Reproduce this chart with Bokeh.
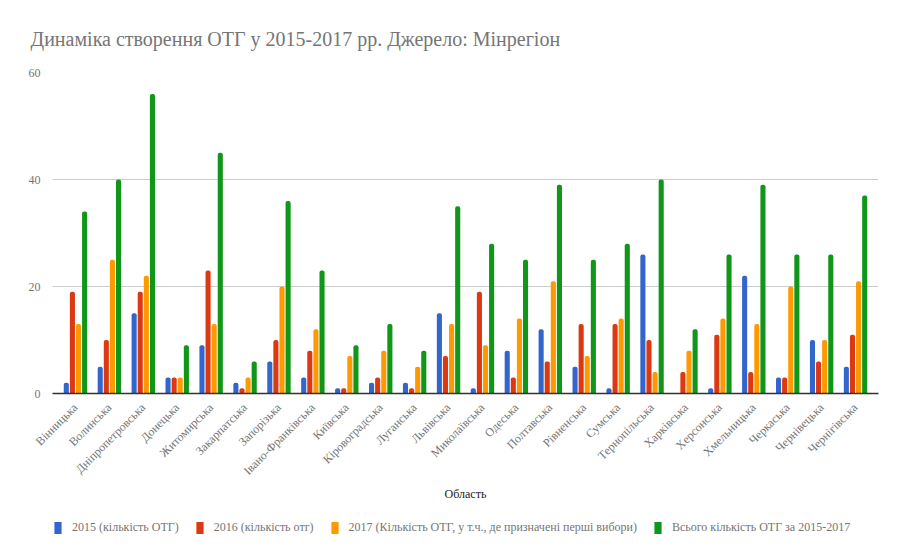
from math import pi

from bokeh.embed import file_html
from bokeh.layouts import column
from bokeh.models import ColumnDataSource, FixedTicker, Legend, LegendItem, Range1d
from bokeh.plotting import figure
from bokeh.resources import INLINE

# Oblasts (x categories)
regions = [
    "Вінницька", "Волинська", "Дніпропетровська", "Донецька", "Житомирська",
    "Закарпатська", "Запорізька", "Івано-Франківська", "Київська",
    "Кіровоградська", "Луганська", "Львівська", "Миколаївська", "Одеська",
    "Полтавська", "Рівненська", "Сумська", "Тернопільська", "Харківська",
    "Херсонська", "Хмельницька", "Черкаська", "Чернівецька", "Чернігівська",
]

# Number of united territorial communities per oblast
otg_2015 = [2, 5, 15, 3, 9, 2, 6, 3, 1, 2, 2, 15, 1, 8, 12, 5, 1, 26, 0, 1, 22, 3, 10, 5]
otg_2016 = [19, 10, 19, 3, 23, 1, 10, 8, 1, 3, 1, 7, 19, 3, 6, 13, 13, 10, 4, 11, 4, 3, 6, 11]
otg_2017 = [13, 25, 22, 3, 13, 3, 20, 12, 7, 8, 5, 13, 9, 14, 21, 7, 14, 4, 8, 14, 13, 20, 10, 21]
otg_total = [34, 40, 56, 9, 45, 6, 36, 23, 9, 13, 8, 35, 28, 25, 39, 25, 28, 40, 12, 26, 39, 26, 26, 37]

series_labels = [
    "2015 (кількість ОТГ)",
    "2016 (кількість отг)",
    "2017 (Кількість ОТГ, у т.ч., де призначені перші вибори)",
    "Всього кількість ОТГ за 2015-2017",
]
series_values = [otg_2015, otg_2016, otg_2017, otg_total]
colors = ["#3366cc", "#dc3912", "#ff9900", "#109618"]
y_ticks = [0, 20, 40, 60]

SERIF = "Liberation Serif"
GREY = "#757575"

xs = list(range(len(regions)))

# main chart: title, grouped bars, axes
p = figure(
    width=906, height=503,
    x_range=Range1d(-0.677, len(regions) - 1 + 0.677),
    y_range=Range1d(0, 60),
    output_backend="svg", toolbar_location=None,
    min_border_left=52, min_border_right=28,
    min_border_top=72, min_border_bottom=107,
)

p.title.text = "Динаміка створення ОТГ у 2015-2017 рр. Джерело: Мінрегіон"
p.title.text_font = SERIF
p.title.text_font_size = "20px"
p.title.text_font_style = "normal"
p.title.text_color = GREY
p.title.align = "left"
p.title.offset = -22
p.title.standoff = 45

offsets = [-0.27, -0.09, 0.09, 0.27]
for vals, off, col in zip(series_values, offsets, colors):
    src = ColumnDataSource(dict(x=[x + off for x in xs], top=vals))
    p.vbar(x="x", top="top", bottom=0, width=0.15, source=src,
           fill_color=col, line_color=None, border_radius=(2, 2, 0, 0))

# y axis: labels only
p.yaxis.ticker = FixedTicker(ticks=y_ticks)
p.yaxis.axis_line_color = None
p.yaxis.major_tick_line_color = None
p.yaxis.minor_tick_line_color = None
p.yaxis.major_label_text_font = SERIF
p.yaxis.major_label_text_font_size = "12px"
p.yaxis.major_label_text_color = GREY
p.yaxis.major_label_standoff = 6

# x axis: rotated oblast names
p.xaxis.ticker = FixedTicker(ticks=xs)
p.xaxis.major_label_overrides = {i: name for i, name in enumerate(regions)}
p.xaxis.major_label_orientation = pi / 4
p.xaxis.major_label_text_font = SERIF
p.xaxis.major_label_text_font_size = "12px"
p.xaxis.major_label_text_color = GREY
p.xaxis.major_label_standoff = 6
p.xaxis.major_tick_line_color = None
p.xaxis.minor_tick_line_color = None
p.xaxis.axis_line_color = "#333333"
p.xaxis.axis_line_width = 1.5
p.xaxis.axis_label = "Область"
p.xaxis.axis_label_text_font = SERIF
p.xaxis.axis_label_text_font_size = "12px"
p.xaxis.axis_label_text_font_style = "normal"
p.xaxis.axis_label_text_color = "#222222"
p.xaxis.axis_label_standoff = 1

p.xgrid.grid_line_color = None
p.ygrid.ticker = FixedTicker(ticks=y_ticks)
p.ygrid.grid_line_color = "#cccccc"
p.outline_line_color = None

# legend strip under the chart; swatch renderers sit outside the visible range
lg = figure(
    width=906, height=57, output_backend="svg", toolbar_location=None,
    x_range=Range1d(0, 1), y_range=Range1d(0, 1),
    min_border=0, outline_line_color=None,
)
lg.axis.visible = False
lg.grid.visible = False
items = []
for col, lab in zip(colors, series_labels):
    swatch = lg.rect(x=[-10], y=[0], width=0.1, height=0.1, fill_color=col, line_color=None)
    items.append(LegendItem(label=lab, renderers=[swatch]))

legend = Legend(items=items, orientation="horizontal", location=(1, 25))
legend.label_text_font = SERIF
legend.label_text_font_size = "12px"
legend.label_text_color = GREY
legend.glyph_width = 9
legend.glyph_height = 15
legend.label_standoff = 10
legend.spacing = 16
legend.padding = 0
legend.margin = 0
legend.border_line_color = None
legend.background_fill_alpha = 0
lg.add_layout(legend)

open("out.html", "w").write(file_html(column(p, lg, spacing=0), INLINE))
